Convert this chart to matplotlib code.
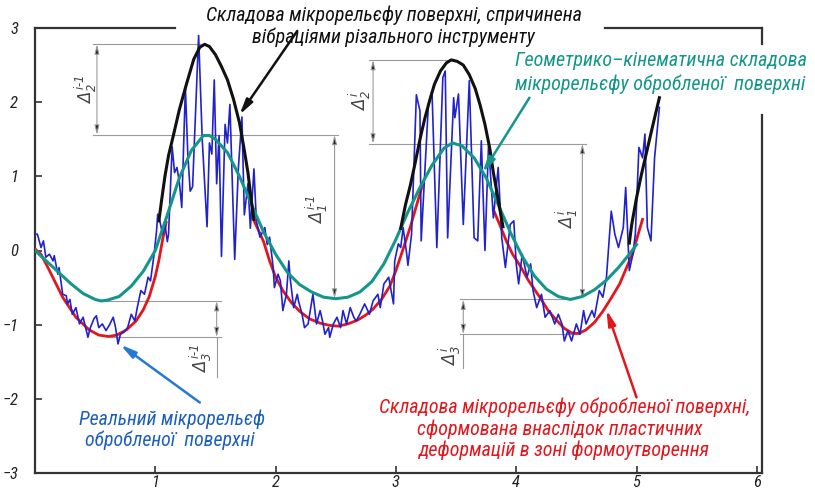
import matplotlib
matplotlib.use('Agg')
import matplotlib.pyplot as plt

# ---------------- data ----------------
teal_x = [0.00, 0.10, 0.20, 0.30, 0.40, 0.50, 0.55, 0.60, 0.70, 0.80, 0.90, 1.00, 1.10, 1.20,
          1.30, 1.40, 1.45, 1.50, 1.60, 1.70, 1.80, 1.90, 2.00, 2.10, 2.20, 2.30, 2.40, 2.50,
          2.60, 2.70, 2.80, 2.90, 3.00, 3.10, 3.20, 3.30, 3.40, 3.47, 3.55, 3.65, 3.75, 3.85,
          3.95, 4.05, 4.15, 4.25, 4.35, 4.45, 4.55, 4.65, 4.75, 4.85, 4.95, 5.00]
teal_y = [0.00, -0.15, -0.30, -0.45, -0.58, -0.66, -0.68, -0.67, -0.62, -0.48, -0.28, 0.00, 0.48, 0.98,
          1.35, 1.55, 1.55, 1.50, 1.32, 1.00, 0.62, 0.25, -0.05, -0.30, -0.46, -0.56, -0.63, -0.65,
          -0.63, -0.56, -0.42, -0.18, 0.15, 0.52, 0.85, 1.15, 1.38, 1.45, 1.41, 1.25, 0.98, 0.62,
          0.25, -0.08, -0.34, -0.52, -0.62, -0.66, -0.62, -0.53, -0.40, -0.23, -0.03, 0.08]

red1_x = [0.00, 0.05, 0.12, 0.23, 0.34, 0.45, 0.53, 0.61, 0.68, 0.76, 0.84, 0.90, 0.95, 1.00, 1.03, 1.06, 1.09]
red1_y = [0.02, -0.05, -0.27, -0.63, -0.90, -1.07, -1.14, -1.16, -1.14, -1.07, -0.95, -0.80, -0.62, -0.35, -0.13, 0.14, 0.38]
red2_x = [1.80, 1.85, 1.90, 1.95, 2.00, 2.06, 2.13, 2.20, 2.28, 2.37, 2.45, 2.52, 2.60, 2.68, 2.75,
          2.81, 2.88, 2.95, 3.00, 3.06, 3.12, 3.17, 3.22]
red2_y = [0.47, 0.30, 0.12, -0.14, -0.36, -0.54, -0.70, -0.82, -0.92, -0.98, -1.01, -1.02, -0.99, -0.94, -0.87,
          -0.79, -0.66, -0.48, -0.27, 0.02, 0.32, 0.60, 0.88]
red3_x = [3.81, 3.86, 3.92, 3.97, 4.03, 4.10, 4.20, 4.27, 4.34, 4.40, 4.46, 4.52, 4.58, 4.65, 4.72,
          4.79, 4.86, 4.92, 4.97, 5.01, 5.05]
red3_y = [0.55, 0.36, 0.12, -0.05, -0.20, -0.40, -0.64, -0.82, -0.95, -1.05, -1.11, -1.12, -1.07, -0.97, -0.82,
          -0.64, -0.45, -0.22, -0.03, 0.20, 0.42]

black1_x = [1.03, 1.05, 1.08, 1.11, 1.15, 1.20, 1.26, 1.32, 1.37, 1.41, 1.45, 1.50, 1.55, 1.60, 1.65,
            1.70, 1.74, 1.77, 1.80, 1.82]
black1_y = [0.40, 0.65, 1.00, 1.28, 1.55, 1.90, 2.25, 2.58, 2.74, 2.78, 2.75, 2.64, 2.48, 2.30, 2.04,
            1.72, 1.35, 1.05, 0.65, 0.42]
black2_x = [3.04, 3.08, 3.12, 3.16, 3.20, 3.24, 3.28, 3.32, 3.37, 3.42, 3.46, 3.51, 3.56, 3.61, 3.66,
            3.70, 3.74, 3.78, 3.81, 3.84, 3.87, 3.89]
black2_y = [0.30, 0.62, 0.88, 1.18, 1.50, 1.78, 2.02, 2.24, 2.42, 2.53, 2.57, 2.55, 2.50, 2.37, 2.18,
            1.96, 1.70, 1.38, 1.05, 0.78, 0.50, 0.32]
black3_x = [4.94, 4.96, 5.00, 5.04, 5.08, 5.13, 5.19]
black3_y = [0.10, 0.35, 0.71, 1.02, 1.30, 1.65, 2.06]

blue_x = [0.00, 0.02, 0.05, 0.07, 0.09, 0.12, 0.15, 0.16, 0.19, 0.20, 0.23, 0.26, 0.27, 0.29, 0.31,
          0.34, 0.37, 0.40, 0.44, 0.46, 0.49, 0.51, 0.53, 0.56, 0.59, 0.62, 0.65, 0.67, 0.69, 0.71,
          0.74, 0.77, 0.80, 0.83, 0.85, 0.88, 0.91, 0.94, 0.96, 0.99, 1.01, 1.02, 1.04, 1.06, 1.08,
          1.10, 1.11, 1.14, 1.16, 1.18, 1.20, 1.22, 1.25, 1.27, 1.29, 1.31, 1.36, 1.39, 1.43, 1.45,
          1.47, 1.49, 1.51, 1.53, 1.55, 1.58, 1.60, 1.62, 1.66, 1.69, 1.72, 1.74, 1.77, 1.79, 1.82,
          1.84, 1.87, 1.91, 1.93, 1.95, 1.98, 1.99, 2.02, 2.04, 2.06, 2.09, 2.11, 2.12, 2.15, 2.18,
          2.19, 2.22, 2.24, 2.27, 2.31, 2.34, 2.37, 2.39, 2.41, 2.44, 2.45, 2.48, 2.51, 2.54, 2.56,
          2.59, 2.62, 2.65, 2.67, 2.70, 2.74, 2.78, 2.81, 2.85, 2.87, 2.90, 2.94, 2.98, 2.99, 3.02,
          3.04, 3.06, 3.09, 3.10, 3.13, 3.17, 3.20, 3.21, 3.27, 3.30, 3.34, 3.39, 3.41, 3.43, 3.48,
          3.49, 3.52, 3.56, 3.61, 3.65, 3.68, 3.71, 3.74, 3.77, 3.81, 3.85, 3.88, 3.91, 3.95, 3.98,
          4.00, 4.02, 4.05, 4.09, 4.12, 4.14, 4.17, 4.21, 4.24, 4.28, 4.32, 4.35, 4.38, 4.40, 4.43,
          4.46, 4.50, 4.53, 4.56, 4.58, 4.63, 4.65, 4.69, 4.72, 4.75, 4.79, 4.82, 4.85, 4.89, 4.91,
          4.94, 4.97, 4.99, 5.02, 5.05, 5.07, 5.09, 5.12, 5.15, 5.19]
blue_y = [0.22, 0.22, 0.04, 0.13, -0.09, -0.05, -0.14, -0.07, -0.32, -0.23, -0.59, -0.61, -0.72, -0.66, -0.86,
          -0.77, -0.99, -0.90, -1.17, -1.04, -0.92, -0.88, -1.04, -0.99, -1.08, -1.00, -0.90, -1.04, -1.26, -1.13,
          -1.10, -1.04, -0.86, -0.95, -0.77, -0.54, -0.59, -0.36, -0.41, -0.05, 0.26, 0.49, 0.38, 0.22, 0.35,
          0.12, 0.22, 1.40, 1.05, 1.12, 0.92, 0.58, 2.20, 1.30, 0.80, 0.86, 2.90, 1.50, 0.32, 1.45,
          1.30, 2.30, 0.90, 1.55, -0.08, 1.70, 1.45, 1.97, -0.12, 1.10, 1.80, 0.48, 0.90, 0.30, 1.10,
          0.40, 0.18, 0.31, 0.08, 0.18, -0.23, -0.50, -0.32, -0.41, -0.81, -0.59, -0.14, -0.36, -0.77, -0.59,
          -0.68, -0.86, -1.04, -0.99, -0.59, -0.99, -0.81, -0.95, -1.13, -1.04, -1.17, -0.99, -0.90, -1.04, -0.81,
          -0.99, -0.77, -0.90, -0.95, -0.86, -0.72, -0.86, -0.68, -0.59, -0.77, -0.45, -0.36, -0.72, -0.14, 0.09,
          0.04, 0.31, -0.05, -0.20, 0.22, 2.10, 1.88, 0.13, 1.97, 2.15, 0.04, 2.33, 2.42, 0.17, 2.06,
          1.79, 2.11, 0.35, 2.29, 0.17, 0.13, 1.48, 0.00, 1.43, 0.44, 1.12, 0.17, -0.23, 0.35, 0.40,
          -0.18, -0.45, -0.05, -0.36, -0.18, -0.54, -0.77, -0.59, -0.90, -0.81, -0.99, -0.86, -0.99, -1.22, -1.08,
          -1.22, -0.99, -1.13, -0.81, -0.99, -0.81, -0.90, -0.54, -0.63, -0.36, 0.53, 0.22, 0.04, 0.31, 0.85,
          -0.27, -0.05, 0.22, 1.39, 1.25, 1.57, 0.31, 0.13, 1.25, 1.93]

x_ticks = [1, 2, 3, 4, 5, 6]
y_ticks = [-3, -2, -1, 0, 1, 2, 3]

title_lines = ["Складова мікрорельєфу поверхні, спричинена",
               "вібраціями різального інструменту"]
teal_lines = ["Геометрико–кінематична складова",
              "мікрорельєфу обробленої  поверхні"]
blue_lines = ["Реальний мікрорельєф",
              "обробленої  поверхні"]
red_lines = ["Складова мікрорельєфу обробленої поверхні,",
             "сформована внаслідок пластичних",
             "деформацій в зоні формоутворення"]

# ---------------- style ----------------
plt.rcParams['font.family'] = ['DejaVu Sans Condensed', 'Roboto Condensed', 'Roboto', 'DejaVu Sans']
plt.rcParams['font.style'] = 'italic'
plt.rcParams['mathtext.fontset'] = 'dejavusans'

C_BLACK = '#111111'
C_TEAL = '#14968a'
C_RED = '#e3161c'
C_BLUE = '#2222cc'
C_LBLUE = '#2478d8'
C_TXTBLUE = '#1c5fc0'
C_GRAY = '#9a9a9a'

fig = plt.figure(figsize=(8.15, 4.92), dpi=100)
ax = fig.add_axes([35 / 815, 19 / 492, 727 / 815, 445 / 492])
XMAX = 6.043
ax.set_xlim(0, XMAX)
ax.set_ylim(-3, 3)
for s in ax.spines.values():
    s.set_visible(False)

# frame drawn with gaps where text sits
fk = dict(color='#333333', lw=1.6, clip_on=False, solid_capstyle='projecting')
ax.plot([0, 0], [-3, 3], **fk)
ax.plot([0, XMAX], [-3, -3], **fk)
ax.plot([0, 1.16], [3, 3], **fk)
ax.plot([4.74, XMAX], [3, 3], **fk)
ax.plot([XMAX, XMAX], [-3, 1.83], **fk)
ax.plot([XMAX, XMAX], [2.78, 3], **fk)

ax.set_xticks(x_ticks)
ax.set_xticklabels([str(v) for v in x_ticks])
ax.set_yticks(y_ticks)
ax.set_yticklabels([str(v).replace('-', '−') for v in y_ticks])
ax.tick_params(direction='in', length=5, width=1.2, color='#333333', labelsize=12,
               labelcolor='#222222')
ax.tick_params(axis='y', pad=12)
ax.tick_params(axis='x', pad=1.5)

# ---------------- dimension lines ----------------
gk = dict(color=C_GRAY, lw=0.8, zorder=1)
dim_arrow = dict(arrowstyle='<|-|>,head_length=0.55,head_width=0.14', fc='#222222', ec=C_GRAY,
                 lw=0.8, shrinkA=0, shrinkB=0)
dk = dict(rotation=90, ha='center', va='center', fontsize=12, color='#444444')

# Delta2^{i-1}
ax.plot([0.48, 1.40], [2.78, 2.78], **gk)
ax.plot([0.48, 2.52], [1.56, 1.56], **gk)
ax.annotate('', xy=(0.515, 2.78), xytext=(0.515, 1.56), arrowprops=dim_arrow)
ax.text(0.42, 2.17, r'$\Delta_2^{\,i\text{-}1}$', **dk)
# Delta1^{i-1}
ax.annotate('', xy=(2.49, 1.56), xytext=(2.49, -0.65), arrowprops=dim_arrow)
ax.text(2.34, 0.55, r'$\Delta_1^{\,i\text{-}1}$', **dk)
# Delta3^{i-1}
ax.plot([0.55, 1.55], [-0.68, -0.68], **gk)
ax.plot([0.62, 1.55], [-1.17, -1.17], **gk)
ax.annotate('', xy=(1.51, -0.68), xytext=(1.51, -1.17), arrowprops=dim_arrow)
ax.plot([1.51, 1.51], [-1.17, -1.71], **gk)
ax.text(1.38, -1.45, r'$\Delta_3^{\,i\text{-}1}$', **dk)
# Delta2^{i}
ax.plot([2.78, 3.46], [2.57, 2.57], **gk)
ax.plot([2.78, 4.58], [1.44, 1.44], **gk)
ax.annotate('', xy=(2.81, 2.57), xytext=(2.81, 1.44), arrowprops=dim_arrow)
ax.text(2.70, 2.03, r'$\Delta_2^{\,i}$', **dk)
# Delta1^{i}
ax.annotate('', xy=(4.55, 1.44), xytext=(4.55, -0.66), arrowprops=dim_arrow)
ax.text(4.42, 0.42, r'$\Delta_1^{\,i}$', **dk)
# Delta3^{i}
ax.plot([3.53, 4.45], [-0.66, -0.66], **gk)
ax.plot([3.53, 4.50], [-1.13, -1.13], **gk)
ax.annotate('', xy=(3.56, -0.66), xytext=(3.56, -1.13), arrowprops=dim_arrow)
ax.plot([3.56, 3.56], [-1.13, -1.58], **gk)
ax.text(3.45, -1.42, r'$\Delta_3^{\,i}$', **dk)

# ---------------- curves ----------------
ax.plot(red1_x, red1_y, color=C_RED, lw=2.0, zorder=3)
ax.plot(red2_x, red2_y, color=C_RED, lw=2.0, zorder=3)
ax.plot(red3_x, red3_y, color=C_RED, lw=2.0, zorder=3)
ax.plot(blue_x, blue_y, color=C_BLUE, lw=1.2, zorder=4)
ax.plot(teal_x, teal_y, color=C_TEAL, lw=2.2, zorder=5)
ax.plot(black1_x, black1_y, color=C_BLACK, lw=2.2, zorder=5)
ax.plot(black2_x, black2_y, color=C_BLACK, lw=2.2, zorder=5)
ax.plot(black3_x, black3_y, color=C_BLACK, lw=2.2, zorder=5)

# ---------------- leaders ----------------
def leader(tail, head, color):
    ax.annotate('', xy=head, xytext=tail, annotation_clip=False,
                arrowprops=dict(arrowstyle='-|>,head_length=0.9,head_width=0.22', color=color,
                                lw=1.8, shrinkA=0, shrinkB=0), zorder=6)

leader((2.18, 2.96), (1.70, 1.83), C_BLACK)
leader((4.11, 2.06), (3.72, 1.05), C_TEAL)
leader((1.37, -2.05), (0.71, -1.27), C_LBLUE)
leader((5.00, -1.98), (4.75, -0.80), C_RED)

# ---------------- texts (font size fitted to the reference line widths) ----------------
renderer = fig.canvas.get_renderer()

def text_group(lines, xs, ys, color, target_px):
    objs = [ax.text(x, y, s, ha='center', va='center', fontsize=14, color=color, clip_on=False)
            for s, x, y in zip(lines, xs, ys)]
    w = objs[0].get_window_extent(renderer).width
    fs = 14 * target_px / w
    for o in objs:
        o.set_fontsize(fs)

text_group(title_lines, [2.98, 2.98], [3.17, 2.87], '#111111', 377)
text_group(teal_lines, [5.20, 5.20], [2.56, 2.24], C_TEAL, 293)
text_group(blue_lines, [1.14, 1.12], [-2.28, -2.56], C_TXTBLUE, 187)
text_group(red_lines, [4.40, 4.36, 4.39], [-2.12, -2.41, -2.70], C_RED, 372)

fig.savefig('out.png', dpi=100, facecolor='white')
